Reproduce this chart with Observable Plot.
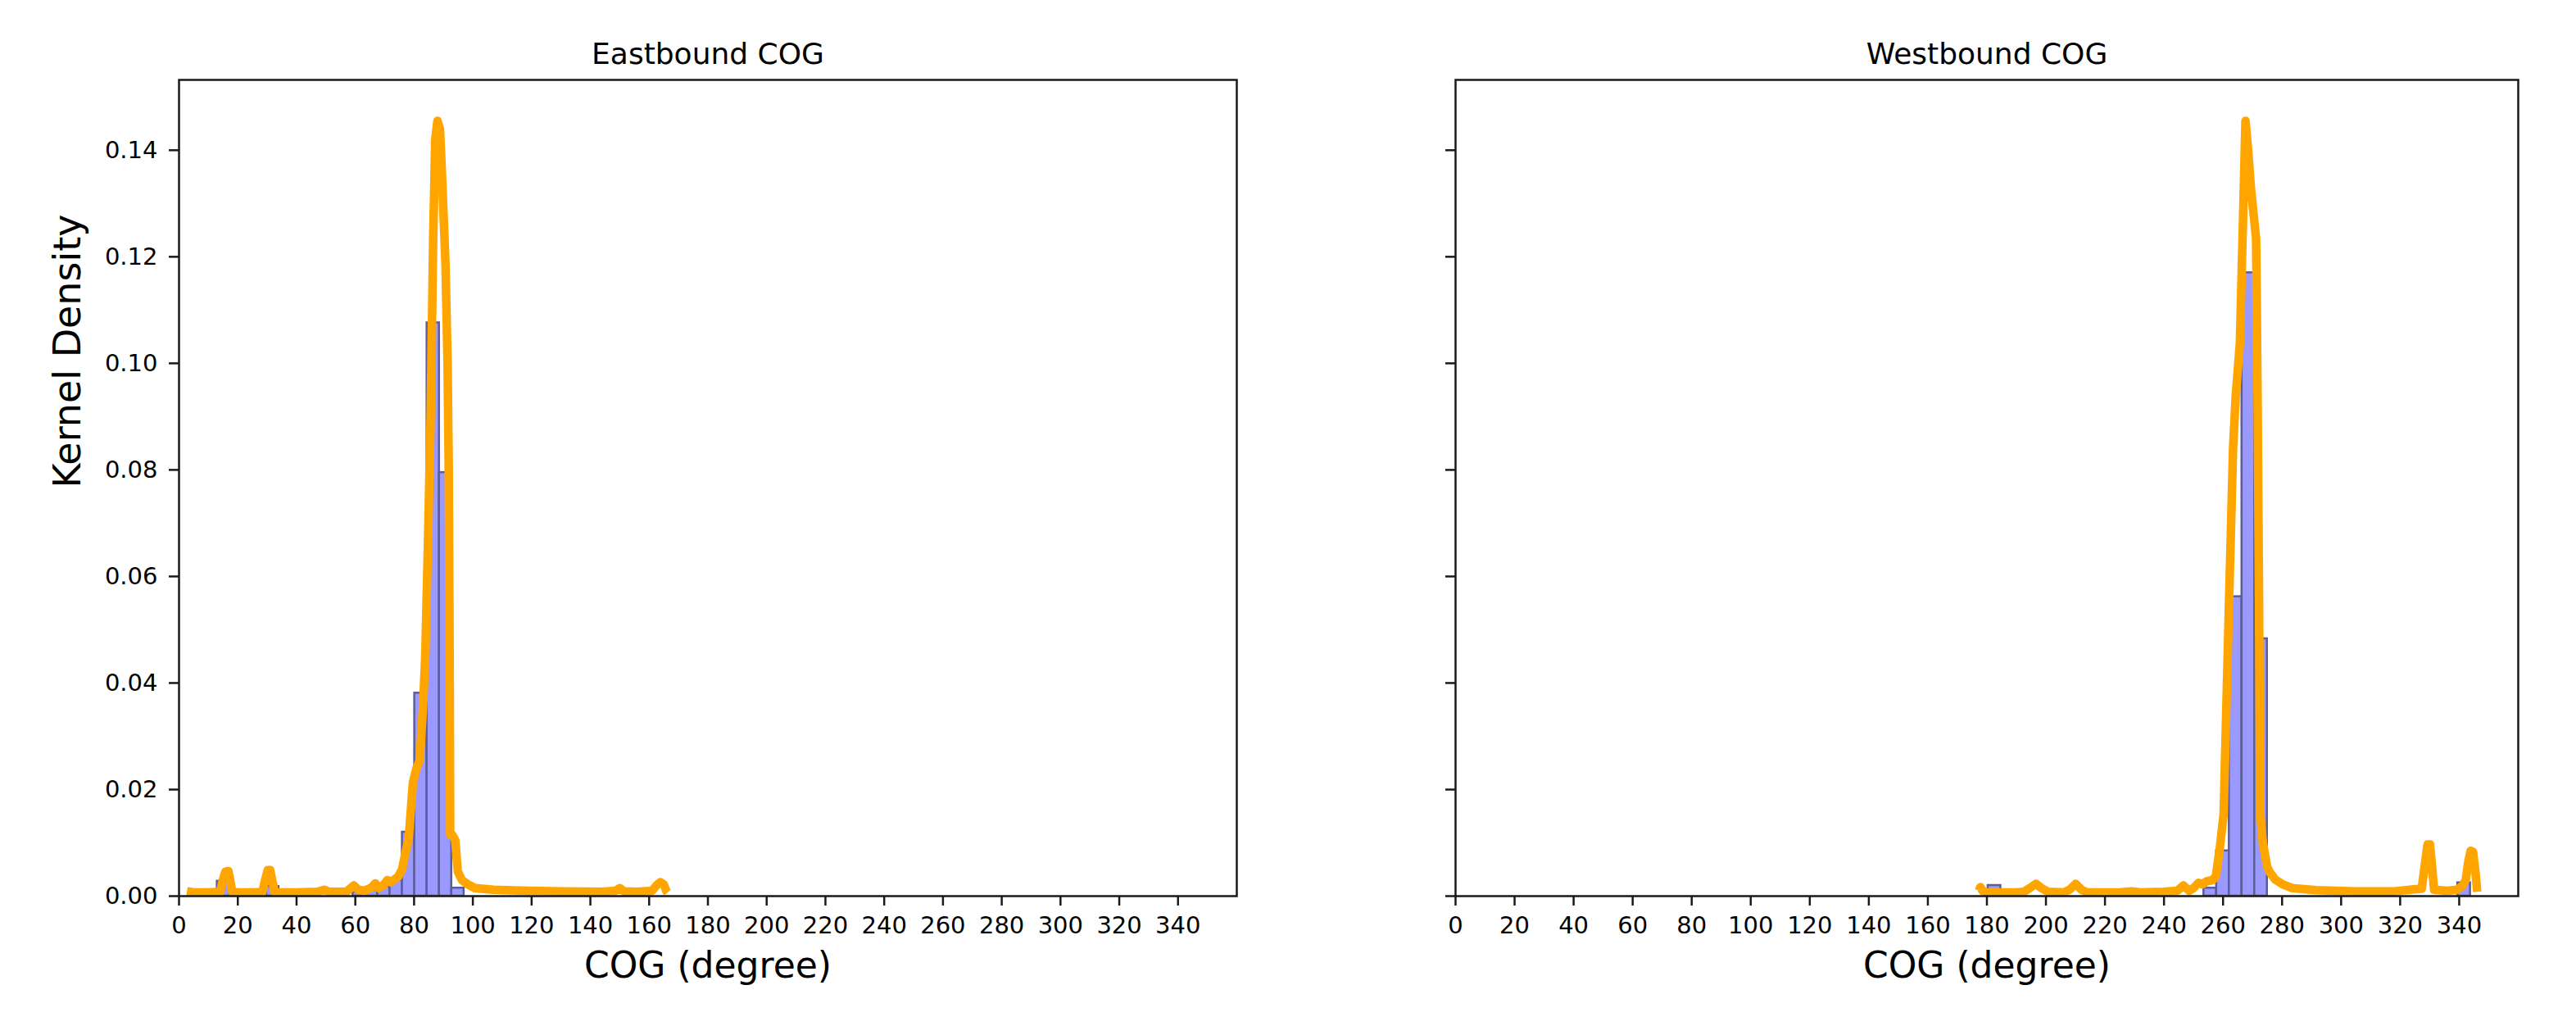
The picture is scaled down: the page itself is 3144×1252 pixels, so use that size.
<!DOCTYPE html>
<html>
<head>
<meta charset="utf-8">
<script src="https://cdn.jsdelivr.net/npm/d3@7"></script>
<script src="https://cdn.jsdelivr.net/npm/@observablehq/plot@0.6"></script>
<style>
  html, body { margin: 0; padding: 0; background: white; }
  #chart { position: relative; width: 3144px; height: 1252px; background: white; overflow: hidden; }
  #chart svg { position: absolute; top: 0; }
</style>
</head>
<body>
<div id="chart"></div>
<script>
// ---------- data ----------
const panelTitles = ["Eastbound COG", "Westbound COG"];
const xLabel = "COG (degree)";
const yLabel = "Kernel Density";
const xTicks = [0,20,40,60,80,100,120,140,160,180,200,220,240,260,280,300,320,340];
const yTicks = [0,0.02,0.04,0.06,0.08,0.10,0.12,0.14];

// Eastbound histogram (bin start, bin end, density)
const eastBinStart   = [13.0, 29.8, 59.2, 63.4, 67.6, 71.8, 76.0, 80.2, 84.4, 88.6, 92.8];
const eastBinEnd     = [17.2, 34.0, 63.4, 67.6, 71.8, 76.0, 80.2, 84.4, 88.6, 92.8, 97.0];
const eastBinDensity = [0.0028, 0.0018, 0.0008, 0.0012, 0.0018, 0.0030, 0.0120, 0.0381, 0.1076, 0.0795, 0.0015];

// Eastbound KDE curve
const eastKdeX = [2.7, 5, 10, 14.0, 14.9, 15.8, 16.8, 17.6, 18.1, 20, 26, 28.4, 29.3, 30.2, 31.0, 31.9, 32.5, 34, 40, 47, 49.5, 51, 57, 59.5, 61, 63, 65.5, 66.8, 68.0, 69.5, 70.9, 72.0, 73.0, 74.5, 75.9, 77.0, 78.2, 79.6, 80.8, 81.9, 83.0, 83.8, 84.8, 85.6, 86.5, 87.2, 87.95, 88.8, 89.3, 90.7, 91.4, 91.8, 92.1, 92.3, 93.0, 94.0, 94.9, 96.3, 98.3, 100.7, 107, 119, 130, 144, 148.5, 150.0, 151.5, 156, 161, 162.5, 163.8, 165.0, 165.8, 166.3];
const eastKdeY = [0.0009, 0.0007, 0.0007, 0.0008, 0.0030, 0.0046, 0.0047, 0.0025, 0.0008, 0.0007, 0.0007, 0.0008, 0.0030, 0.0049, 0.0049, 0.0025, 0.0008, 0.0007, 0.0007, 0.0008, 0.0012, 0.0008, 0.0008, 0.0020, 0.0012, 0.0010, 0.0016, 0.0024, 0.0015, 0.0020, 0.0030, 0.0026, 0.0030, 0.0036, 0.0050, 0.0080, 0.0110, 0.0213, 0.0240, 0.0255, 0.0350, 0.0449, 0.0680, 0.0890, 0.1234, 0.1420, 0.1455, 0.1440, 0.1380, 0.1185, 0.1000, 0.0800, 0.0450, 0.0115, 0.0115, 0.0105, 0.0046, 0.0030, 0.0022, 0.0015, 0.0012, 0.0010, 0.0009, 0.0008, 0.0010, 0.0015, 0.0009, 0.0008, 0.0010, 0.0020, 0.0026, 0.0022, 0.0010, 0.0007];

// Westbound histogram
const westBinStart   = [180.4, 253.5, 257.8, 262.1, 266.4, 270.7, 339.5];
const westBinEnd     = [184.7, 257.8, 262.1, 266.4, 270.7, 275.0, 343.8];
const westBinDensity = [0.0020, 0.0015, 0.0085, 0.0562, 0.1170, 0.0483, 0.0025];

// Westbound KDE curve
const westKdeX = [177.3, 177.8, 178.5, 180, 190, 192.5, 194.5, 196.6, 198.5, 200.8, 206, 208, 210.1, 212, 214, 225, 229, 232, 240, 244.5, 246.6, 248.5, 250, 251.7, 253, 254.5, 256.5, 257.6, 258.8, 260.2, 262.0, 263.4, 264.3, 265.7, 266.6, 267.6, 268.5, 269.4, 271.2, 271.7, 272.2, 272.6, 273.5, 274.9, 275.8, 277.7, 280.2, 283.5, 291.4, 305, 318, 325.3, 327.3, 328.4, 329.3, 330.1, 330.9, 331.5, 336, 339.3, 341.2, 342.2, 343.1, 343.9, 344.7, 345.6, 346.1];
const westKdeY = [0.0010, 0.0017, 0.0010, 0.0007, 0.0007, 0.0008, 0.0015, 0.0023, 0.0015, 0.0008, 0.0007, 0.0012, 0.0023, 0.0012, 0.0007, 0.0007, 0.0009, 0.0007, 0.0008, 0.0010, 0.0020, 0.0010, 0.0015, 0.0025, 0.0022, 0.0028, 0.0030, 0.0038, 0.0085, 0.0154, 0.0546, 0.0842, 0.0939, 0.1037, 0.1233, 0.1455, 0.1400, 0.1331, 0.1234, 0.0939, 0.0546, 0.0154, 0.0100, 0.0056, 0.0045, 0.0031, 0.0022, 0.0015, 0.0011, 0.0009, 0.0009, 0.0013, 0.0014, 0.0060, 0.0097, 0.0097, 0.0050, 0.0012, 0.0010, 0.0012, 0.0020, 0.0030, 0.0065, 0.0085, 0.0083, 0.0040, 0.0008];

// ---------- build tables ----------
const bins = (s, e, d) => s.map((v, i) => ({x1: v, x2: e[i], y: d[i]}));
const curve = (xs, ys) => xs.map((v, i) => ({x: v, y: ys[i]}));

const FONT = "DejaVu Sans, Liberation Sans, sans-serif";

function panel({title, binData, kdeData, showYLabels, svgWidth, marginLeft, marginRight}) {
  const marks = [
    Plot.rectY(binData, {x1: "x1", x2: "x2", y: "y", fill: "#9999ff", stroke: "#5c5c99", strokeWidth: 2.5, clip: true}),
    Plot.line(kdeData, {x: "x", y: "y", stroke: "#ffa500", strokeWidth: 10.5, strokeLinejoin: "round", strokeLinecap: "butt", clip: true}),
    Plot.frame({stroke: "#1a1a1a", strokeWidth: 2.5}),
    Plot.axisX({ticks: xTicks, tickSize: 12, tickPadding: 13, tickFormat: d => String(d), label: null, strokeWidth: 2.5, stroke: "#1a1a1a"}),
    Plot.axisY({ticks: yTicks, tickSize: 12, tickPadding: 14, tickFormat: showYLabels ? (d => d.toFixed(2)) : (() => ""), label: null, strokeWidth: 2.5, stroke: "#1a1a1a"}),
    Plot.text([title], {frameAnchor: "top", dy: -20, lineAnchor: "bottom", fontSize: 36, fill: "black"}),
    Plot.text([xLabel], {frameAnchor: "bottom", dy: 99, lineAnchor: "bottom", fontSize: 44, fill: "black"})
  ];
  if (showYLabels) {
    marks.push(Plot.text([yLabel], {frameAnchor: "left", dx: -121, rotate: -90, lineAnchor: "bottom", fontSize: 46, fill: "black"}));
  }
  return Plot.plot({
    width: svgWidth,
    height: 1252,
    marginLeft, marginRight,
    marginTop: 97,
    marginBottom: 159,
    x: {domain: [0, 360]},
    y: {domain: [0, 0.1532]},
    style: {fontFamily: FONT, fontSize: "29px", color: "black", background: "white", overflow: "visible"},
    marks
  });
}

const chart = document.getElementById("chart");
const left = panel({
  title: panelTitles[0],
  binData: bins(eastBinStart, eastBinEnd, eastBinDensity),
  kdeData: curve(eastKdeX, eastKdeY),
  showYLabels: true,
  svgWidth: 1572, marginLeft: 218, marginRight: 63
});
left.style.left = "0px";
chart.appendChild(left);

const right = panel({
  title: panelTitles[1],
  binData: bins(westBinStart, westBinEnd, westBinDensity),
  kdeData: curve(westKdeX, westKdeY),
  showYLabels: false,
  svgWidth: 1572, marginLeft: 204, marginRight: 71
});
right.style.left = "1572px";
chart.appendChild(right);
</script>
</body>
</html>
